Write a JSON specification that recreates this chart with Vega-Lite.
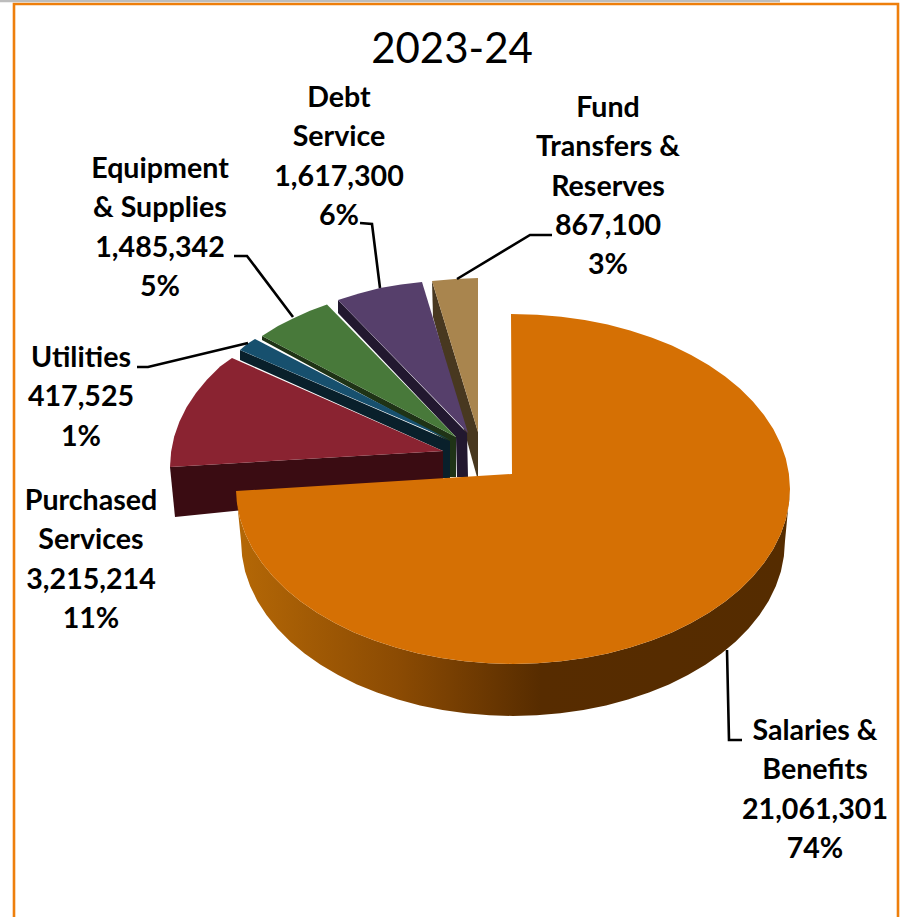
{
  "$schema": "https://vega.github.io/schema/vega-lite/v6.json",
  "width": 902,
  "height": 917,
  "autosize": {"type": "fit", "contains": "padding"},
  "padding": 0,
  "background": "white",
  "config": {"view": {"stroke": null}},
  "projection": {"type": "identity", "scale": 1, "translate": [0, 0]},
  "layer": [
    {
      "data": {"values": [
        {"type": "Feature", "properties": {"part": "frame"}, "geometry": {"type": "LineString", "coordinates": [[14, 917], [14, 4], [898, 4], [898, 917]]}}
      ]},
      "mark": {"type": "geoshape", "filled": false, "stroke": "#ee7f0c", "strokeWidth": 2.6}
    },
    {
      "data": {"values": [
        {"type": "Feature", "properties": {"part": "rule above frame"}, "geometry": {"type": "LineString", "coordinates": [[0, 1], [780, 1]]}}
      ]},
      "mark": {"type": "geoshape", "filled": false, "stroke": "#bdbdbd", "strokeWidth": 2.5}
    },
    {
      "data": {"values": [
        {"type": "Feature", "properties": {"part": "Fund Transfers & Reserves wall"}, "geometry": {"type": "Polygon", "coordinates": [[[432, 281], [433, 317], [477, 477], [478, 477], [478, 432], [432, 281]]]}},
        {"type": "Feature", "properties": {"part": "Fund Transfers & Reserves"}, "geometry": {"type": "Polygon", "coordinates": [[[432, 281], [455, 279], [478, 278], [478, 432], [432, 281]]]}},
        {"type": "Feature", "properties": {"part": "Debt Service wall"}, "geometry": {"type": "Polygon", "coordinates": [[[338, 300], [467, 433], [468, 477], [457, 477], [456, 437], [338, 313], [338, 300]]]}},
        {"type": "Feature", "properties": {"part": "Debt Service"}, "geometry": {"type": "Polygon", "coordinates": [[[338, 300], [359, 293.5], [380, 288], [401, 284.5], [422, 282], [468, 433], [338, 300]]]}},
        {"type": "Feature", "properties": {"part": "Equipment & Supplies wall"}, "geometry": {"type": "Polygon", "coordinates": [[[262, 336], [456, 437], [456, 477], [450, 477], [450, 442], [262, 340], [262, 336]]]}},
        {"type": "Feature", "properties": {"part": "Equipment & Supplies"}, "geometry": {"type": "Polygon", "coordinates": [[[262, 336], [278, 326], [293, 318.4], [310, 310.8], [327, 304.5], [456, 437], [262, 336]]]}},
        {"type": "Feature", "properties": {"part": "Utilities wall"}, "geometry": {"type": "Polygon", "coordinates": [[[240, 350], [450, 441], [450, 478], [443, 478], [443, 451], [240, 360], [240, 350]]]}},
        {"type": "Feature", "properties": {"part": "Utilities"}, "geometry": {"type": "Polygon", "coordinates": [[[240, 350], [247, 344], [255, 339], [450, 440], [240, 350]]]}},
        {"type": "Feature", "properties": {"part": "Purchased Services wall"}, "geometry": {"type": "Polygon", "coordinates": [[[170, 467], [443, 451], [443, 490], [175, 517], [170, 467]]]}},
        {"type": "Feature", "properties": {"part": "Purchased Services"}, "geometry": {"type": "Polygon", "coordinates": [[[443, 451], [170, 467], [171.1, 451.7], [174.2, 436.6], [179.4, 421.7], [186.7, 407.1], [196, 393], [207.1, 379.5], [220.1, 366.6], [232, 358], [443, 451]]]}}
      ]},
      "mark": {"type": "geoshape", "strokeWidth": 0},
      "encoding": {
        "color": {
          "field": "properties.part",
          "type": "nominal",
          "legend": null,
          "scale": {
            "domain": ["Fund Transfers & Reserves wall", "Fund Transfers & Reserves", "Debt Service wall", "Debt Service", "Equipment & Supplies wall", "Equipment & Supplies", "Utilities wall", "Utilities", "Purchased Services wall", "Purchased Services"],
            "range": ["#483820", "#a9854e", "#22182f", "#563f6b", "#1f3316", "#48793a", "#09202b", "#17506e", "#3a0c12", "#8a2331"]
          }
        }
      }
    },
    {
      "data": {"values": [
        {"type": "Feature", "properties": {"part": "Salaries & Benefits wall"}, "geometry": {"type": "Polygon", "coordinates": [[[790, 489], [788.9, 504.3], [785.8, 519.4], [780.6, 534.3], [773.3, 548.9], [764, 563], [752.9, 576.5], [739.9, 589.4], [725.2, 601.5], [708.9, 612.7], [691.1, 623.1], [671.9, 632.4], [651.5, 640.6], [630.1, 647.6], [607.7, 653.4], [584.7, 658], [561.1, 661.3], [537.1, 663.3], [513, 664], [488.9, 663.3], [464.9, 661.3], [441.3, 658], [418.3, 653.4], [395.9, 647.6], [374.5, 640.6], [354.1, 632.4], [334.9, 623.1], [317.1, 612.7], [300.8, 601.5], [286.1, 589.4], [273.1, 576.5], [262, 563], [252.7, 548.9], [245.4, 534.3], [240.2, 519.4], [237.1, 504.3], [236, 491], [241, 541], [242.1, 556.3], [245.1, 571.4], [250.2, 586.3], [257.4, 600.9], [266.5, 615], [277.4, 628.5], [290.2, 641.4], [304.6, 653.5], [320.6, 664.7], [338.1, 675.1], [357, 684.4], [377, 692.6], [398, 699.6], [420, 705.4], [442.6, 710], [465.8, 713.3], [489.3, 715.3], [513, 716], [536.7, 715.3], [560.2, 713.3], [583.4, 710], [606, 705.4], [628, 699.6], [649, 692.6], [669, 684.4], [687.9, 675.1], [705.4, 664.7], [721.4, 653.5], [735.8, 641.4], [748.6, 628.5], [759.5, 615], [768.6, 600.9], [775.8, 586.3], [780.9, 571.4], [783.9, 556.3], [785, 541], [790, 489]]]}}
      ]},
      "mark": {
        "type": "geoshape",
        "strokeWidth": 0,
        "fill": {
          "x1": 0, "y1": 0, "x2": 1, "y2": 0,
          "gradient": "linear",
          "stops": [
            {"offset": 0, "color": "#b56806"},
            {"offset": 0.3, "color": "#8a4a03"},
            {"offset": 0.55, "color": "#572c00"},
            {"offset": 1, "color": "#552c00"}
          ]
        }
      }
    },
    {
      "data": {"values": [
        {"type": "Feature", "properties": {"part": "Salaries & Benefits"}, "geometry": {"type": "Polygon", "coordinates": [[[511, 314], [537.1, 314.7], [561.1, 316.7], [584.7, 320], [607.7, 324.6], [630.1, 330.4], [651.5, 337.4], [671.9, 345.6], [691.1, 354.9], [708.9, 365.3], [725.2, 376.5], [739.9, 388.6], [752.9, 401.5], [764, 415], [773.3, 429.1], [780.6, 443.7], [785.8, 458.6], [788.9, 473.7], [790, 489], [788.9, 504.3], [785.8, 519.4], [780.6, 534.3], [773.3, 548.9], [764, 563], [752.9, 576.5], [739.9, 589.4], [725.2, 601.5], [708.9, 612.7], [691.1, 623.1], [671.9, 632.4], [651.5, 640.6], [630.1, 647.6], [607.7, 653.4], [584.7, 658], [561.1, 661.3], [537.1, 663.3], [513, 664], [488.9, 663.3], [464.9, 661.3], [441.3, 658], [418.3, 653.4], [395.9, 647.6], [374.5, 640.6], [354.1, 632.4], [334.9, 623.1], [317.1, 612.7], [300.8, 601.5], [286.1, 589.4], [273.1, 576.5], [262, 563], [252.7, 548.9], [245.4, 534.3], [240.2, 519.4], [237.1, 504.3], [236, 491], [512, 474], [511, 314]]]}}
      ]},
      "mark": {"type": "geoshape", "strokeWidth": 0, "fill": "#d57004"}
    },
    {
      "data": {"values": [
        {"type": "Feature", "properties": {"name": "Salaries & Benefits"}, "geometry": {"type": "LineString", "coordinates": [[727, 650], [729, 740], [742, 740]]}},
        {"type": "Feature", "properties": {"name": "Utilities"}, "geometry": {"type": "LineString", "coordinates": [[137, 367], [148, 367], [248, 343]]}},
        {"type": "Feature", "properties": {"name": "Equipment & Supplies"}, "geometry": {"type": "LineString", "coordinates": [[234, 256], [247, 256], [293, 317]]}},
        {"type": "Feature", "properties": {"name": "Debt Service"}, "geometry": {"type": "LineString", "coordinates": [[360, 223], [372, 224], [380, 288]]}},
        {"type": "Feature", "properties": {"name": "Fund Transfers & Reserves"}, "geometry": {"type": "LineString", "coordinates": [[552, 235], [530, 235], [457, 279]]}}
      ]},
      "mark": {"type": "geoshape", "filled": false, "stroke": "#000000", "strokeWidth": 2.6}
    },
    {
      "data": {"values": [
        {"name": "Salaries & Benefits", "value": 21061301, "share": 0.74, "lon": 815, "lat": 731, "label": ["Salaries &", "Benefits", "21,061,301", "74%"]},
        {"name": "Purchased Services", "value": 3215214, "share": 0.11, "lon": 91, "lat": 501, "label": ["Purchased", "Services", "3,215,214", "11%"]},
        {"name": "Utilities", "value": 417525, "share": 0.01, "lon": 81, "lat": 358, "label": ["Utilities", "417,525", "1%"]},
        {"name": "Equipment & Supplies", "value": 1485342, "share": 0.05, "lon": 160, "lat": 169, "label": ["Equipment", "& Supplies", "1,485,342", "5%"]},
        {"name": "Debt Service", "value": 1617300, "share": 0.06, "lon": 339, "lat": 98, "label": ["Debt", "Service", "1,617,300", "6%"]},
        {"name": "Fund Transfers & Reserves", "value": 867100, "share": 0.03, "lon": 608, "lat": 108, "label": ["Fund", "Transfers &", "Reserves", "867,100", "3%"]}
      ]},
      "mark": {"type": "text", "font": "Lato", "fontWeight": "bold", "fontSize": 28.6, "lineHeight": 39.3, "align": "center", "baseline": "middle", "color": "#000000"},
      "encoding": {
        "longitude": {"field": "lon", "type": "quantitative"},
        "latitude": {"field": "lat", "type": "quantitative"},
        "text": {"field": "label"}
      }
    },
    {
      "data": {"values": [{"heading": "2023-24", "lon": 452, "lat": 50}]},
      "mark": {"type": "text", "font": "Lato", "fontSize": 42, "align": "center", "baseline": "middle", "color": "#000000"},
      "encoding": {
        "longitude": {"field": "lon", "type": "quantitative"},
        "latitude": {"field": "lat", "type": "quantitative"},
        "text": {"field": "heading"}
      }
    }
  ]
}
